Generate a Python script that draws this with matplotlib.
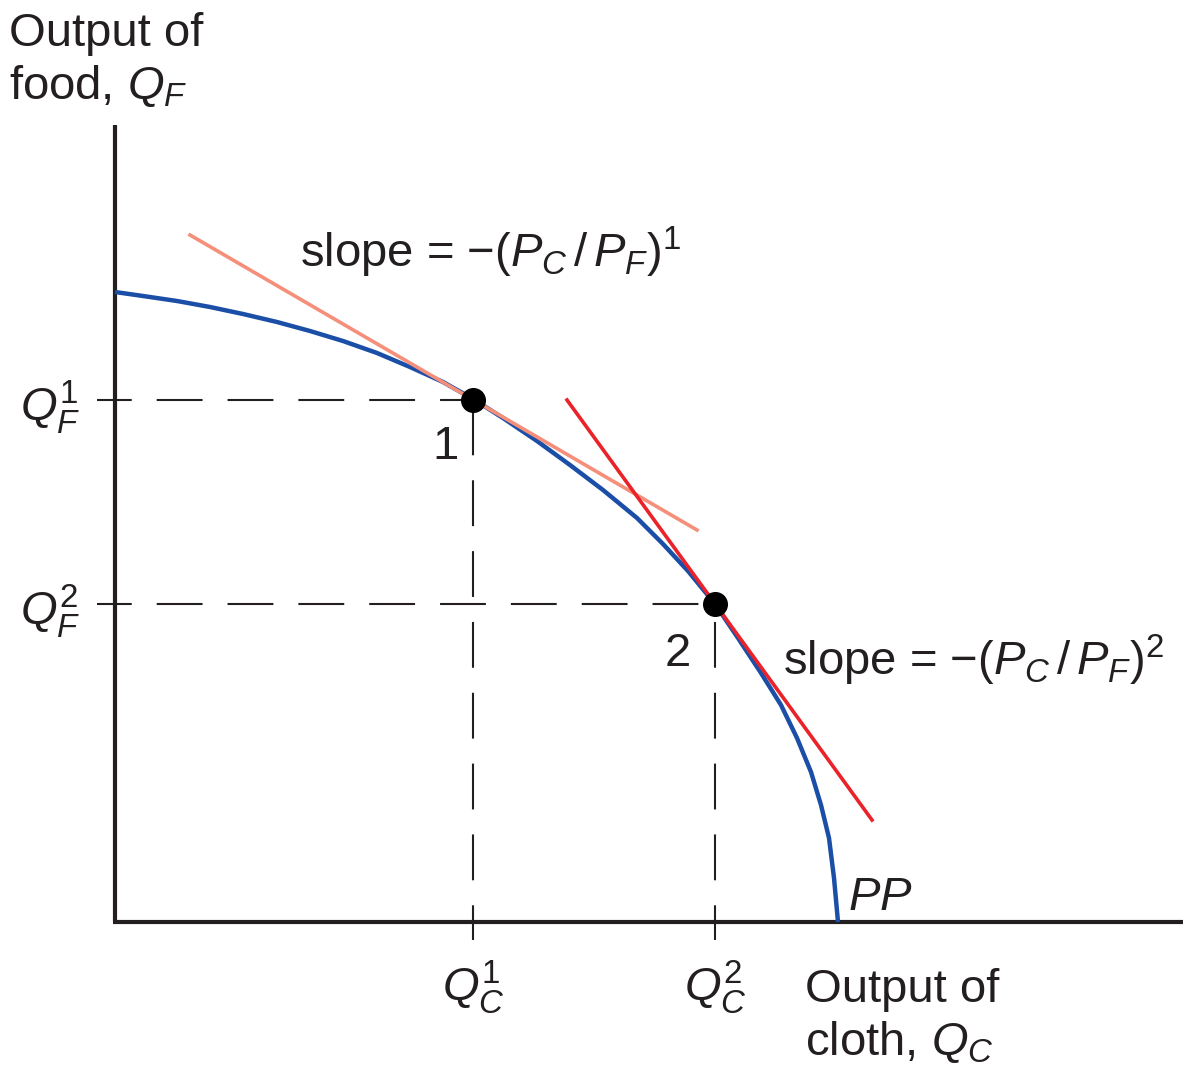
import numpy as np
import matplotlib.pyplot as plt

plt.rcParams['font.family'] = ['Liberation Sans', 'DejaVu Sans']
plt.rcParams['mathtext.fontset'] = 'custom'
plt.rcParams['mathtext.rm'] = 'Liberation Sans'
plt.rcParams['mathtext.it'] = 'Liberation Sans:italic'
plt.rcParams['lines.scale_dashes'] = False

# production possibility frontier PP
pp_x = [0, 2.8, 6.2, 9.5, 12.8, 16.2, 19.5, 22.8, 26.2, 29.5, 32.8, 35.8, 38.8, 42.2,
        45.5, 48.8, 52.2, 54.8, 57.3, 60.0, 62.3, 64.6, 66.6, 68.2, 69.6, 70.6, 71.4,
        71.9, 72.3]
pp_y = [63.0, 62.6, 62.1, 61.5, 60.8, 60.0, 59.1, 58.1, 56.9, 55.5, 54.0, 52.3, 50.4, 48.1,
        45.7, 43.2, 40.4, 37.8, 35.1, 31.8, 28.4, 24.9, 21.7, 18.4, 15.0, 11.7, 8.4,
        4.4, 0]

# production points 1 and 2
pts_x = [35.8, 60.0]
pts_y = [52.2, 31.8]
pt_names = ['1', '2']

# relative price lines
tan1_x = [7.5, 58.2]
tan1_y = [68.7, 39.2]
tan2_x = [45.2, 75.7]
tan2_y = [52.2, 10.2]

x_axis_end = 106.8
y_axis_end = 79.7

fig = plt.figure(figsize=(11.86, 10.76), dpi=100)
ax = fig.add_axes([0, 0, 1, 1])
ax.set_xlim(-11.5, 107.1)
ax.set_ylim(-15.4, 92.2)
ax.axis('off')

dark = '#231f20'
# axes
ax.plot([0, 0], [0, y_axis_end], color=dark, lw=3, solid_capstyle='butt')
ax.plot([-0.2, x_axis_end], [0, 0], color=dark, lw=3, solid_capstyle='butt')

# dashed guides
for px, py in zip(pts_x, pts_y):
    ax.plot([-1.8, px], [py, py], color=dark, lw=1.5, linestyle=(8, (33, 18)))
    ax.plot([px, px], [-1.8, py], color=dark, lw=1.5, linestyle=(8, (33, 18)))

ax.plot(pp_x, pp_y, color='#1b4ea7', lw=3.2, solid_capstyle='butt',
        solid_joinstyle='round', zorder=3)
ax.plot(tan1_x, tan1_y, color='#f58f7a', lw=2.6, zorder=4)
ax.plot(tan2_x, tan2_y, color='#ea2229', lw=2.6, zorder=4)
ax.plot(pts_x, pts_y, 'o', color='black', ms=17, zorder=5)

fs = 34
ax.text(33.0, 47.5, pt_names[0], fontsize=fs, ha='center', va='center', color=dark)
ax.text(56.3, 26.8, pt_names[1], fontsize=fs, ha='center', va='center', color=dark)

ax.text(-10.6, 91.0, 'Output of\nfood, $Q_F$', fontsize=fs, ha='left', va='top',
        linespacing=1.2, color=dark)
ax.text(69.0, -4.6, 'Output of\ncloth, $Q_C$', fontsize=fs, ha='left', va='top',
        linespacing=1.2, color=dark)

ax.text(-3.5, pts_y[0] - 0.7, '$Q_F^1$', fontsize=fs, ha='right', va='center', color=dark)
ax.text(-3.5, pts_y[1] - 0.7, '$Q_F^2$', fontsize=fs, ha='right', va='center', color=dark)
ax.text(pts_x[0], -3.6, '$Q_C^1$', fontsize=fs, ha='center', va='top', color=dark)
ax.text(pts_x[1], -3.6, '$Q_C^2$', fontsize=fs, ha='center', va='top', color=dark)

ax.text(18.5, 67.0, r'slope = $-(P_C\,/\,P_F)^1$', fontsize=fs, ha='left', va='center', color=dark)
ax.text(66.8, 26.2, r'slope = $-(P_C\,/\,P_F)^2$', fontsize=fs, ha='left', va='center', color=dark)
ax.text(73.3, 2.4, '$PP$', fontsize=fs, ha='left', va='center', color=dark)

fig.savefig('out.png', dpi=100)
